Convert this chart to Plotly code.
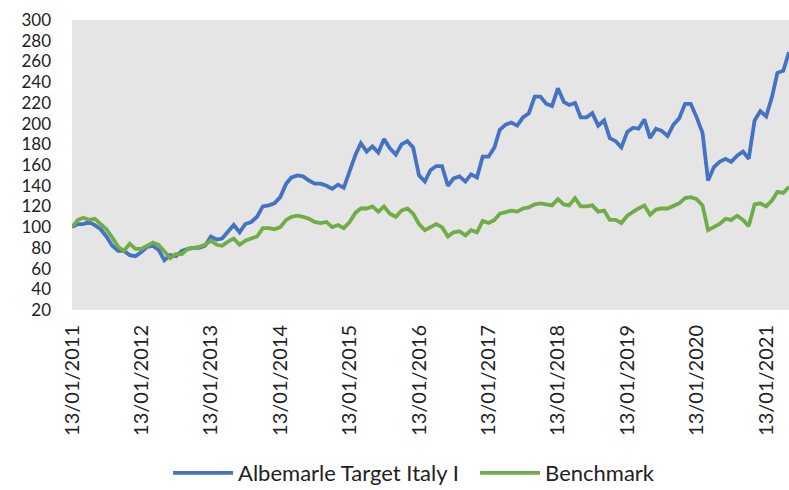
import pandas as pd
import plotly.graph_objects as go

# Monthly observation dates (13th of each month), Jan 2011 .. May 2021
dates = pd.date_range("2011-01-01", periods=125, freq="MS") + pd.Timedelta(days=12)
dates = [d.strftime("%Y-%m-%d") for d in dates]

albemarle = [
    100, 103, 103, 105, 102, 98, 91, 82, 77, 77, 73, 72,
    76, 81, 82, 78, 68, 73, 72, 77, 79, 80, 80, 82,
    91, 88, 89, 95, 102, 95, 103, 105, 110, 120, 121, 123,
    129, 142, 148, 150, 149, 145, 142, 142, 140, 137, 141, 138,
    155, 170, 181, 173, 178, 172, 185, 176, 170, 180, 183, 177,
    150, 144, 155, 159, 159, 140, 147, 149, 144, 151, 148, 168,
    168, 177, 194, 199, 201, 198, 206, 210, 226, 226, 219, 217,
    234, 221, 218, 220, 206, 206, 210, 198, 203, 186, 183, 177,
    192, 196, 195, 204, 186, 195, 193, 188, 199, 205, 219, 219,
    206, 191, 145, 158, 163, 166, 163, 169, 173, 166, 203, 212,
    207, 226, 249, 251, 269,
]

benchmark = [
    100, 107, 109, 107, 108, 103, 98, 90, 81, 77, 84, 79,
    79, 82, 85, 83, 77, 70, 74, 74, 79, 80, 81, 83,
    87, 83, 82, 86, 89, 83, 87, 89, 91, 99, 99, 98,
    100, 107, 110, 111, 110, 108, 105, 104, 105, 100, 102, 99,
    105, 114, 118, 118, 120, 115, 120, 113, 110, 116, 118, 113,
    103, 97, 100, 103, 100, 91, 95, 96, 92, 97, 95, 106,
    104, 107, 113, 115, 116, 115, 118, 119, 122, 123, 122, 121,
    127, 122, 121, 128, 120, 120, 121, 115, 116, 107, 107, 104,
    111, 115, 118, 121, 112, 117, 118, 118, 121, 123, 128, 129,
    127, 121, 97, 100, 103, 108, 107, 111, 107, 101, 122, 123,
    120, 126, 134, 133, 139,
]

tick_dates = ["2011-01-13", "2012-01-13", "2013-01-13", "2014-01-13", "2015-01-13",
              "2016-01-13", "2017-01-13", "2018-01-13", "2019-01-13", "2020-01-13",
              "2021-01-13"]
tick_labels = ["13/01/2011", "13/01/2012", "13/01/2013", "13/01/2014", "13/01/2015",
               "13/01/2016", "13/01/2017", "13/01/2018", "13/01/2019", "13/01/2020",
               "13/01/2021"]

FONT = "Lato"
TXT = "#222222"
PAD = "\u00a0" * 2  # extra gap between the two legend entries

fig = go.Figure()
fig.add_trace(go.Scatter(x=dates, y=albemarle, mode="lines",
                         name="Albemarle Target Italy I" + PAD,
                         line=dict(color="#4472C4", width=3.8)))
fig.add_trace(go.Scatter(x=dates, y=benchmark, mode="lines",
                         name="Benchmark",
                         line=dict(color="#70AD47", width=3.8)))

fig.update_layout(
    width=789, height=490,
    margin=dict(l=72, r=0, t=20, b=180, autoexpand=False),
    paper_bgcolor="white",
    plot_bgcolor="#e5e5e5",
    font=dict(family=FONT, size=20, color=TXT),
    showlegend=True,
    legend=dict(orientation="h", x=0.134, xanchor="left", y=-0.562, yanchor="middle",
                font=dict(family=FONT, size=22, color=TXT),
                itemwidth=60, bgcolor="rgba(0,0,0,0)"),
    xaxis=dict(type="date", range=[dates[0], dates[-1]], automargin=False,
               tickvals=tick_dates, ticktext=tick_labels, tickangle=-90,
               showgrid=False, zeroline=False, showline=False, ticks="",
               ticklabelstandoff=10,
               tickfont=dict(family=FONT, size=20, color=TXT)),
    yaxis=dict(range=[20, 300], dtick=20, tick0=20, automargin=False,
               showgrid=False, zeroline=False, showline=False, ticks="",
               ticklabelstandoff=20,
               tickfont=dict(family=FONT, size=17, color=TXT)),
)

fig.write_html("out.html", config={"displayModeBar": False},
               post_script="document.body.style.margin='0';document.body.style.padding='0';")
